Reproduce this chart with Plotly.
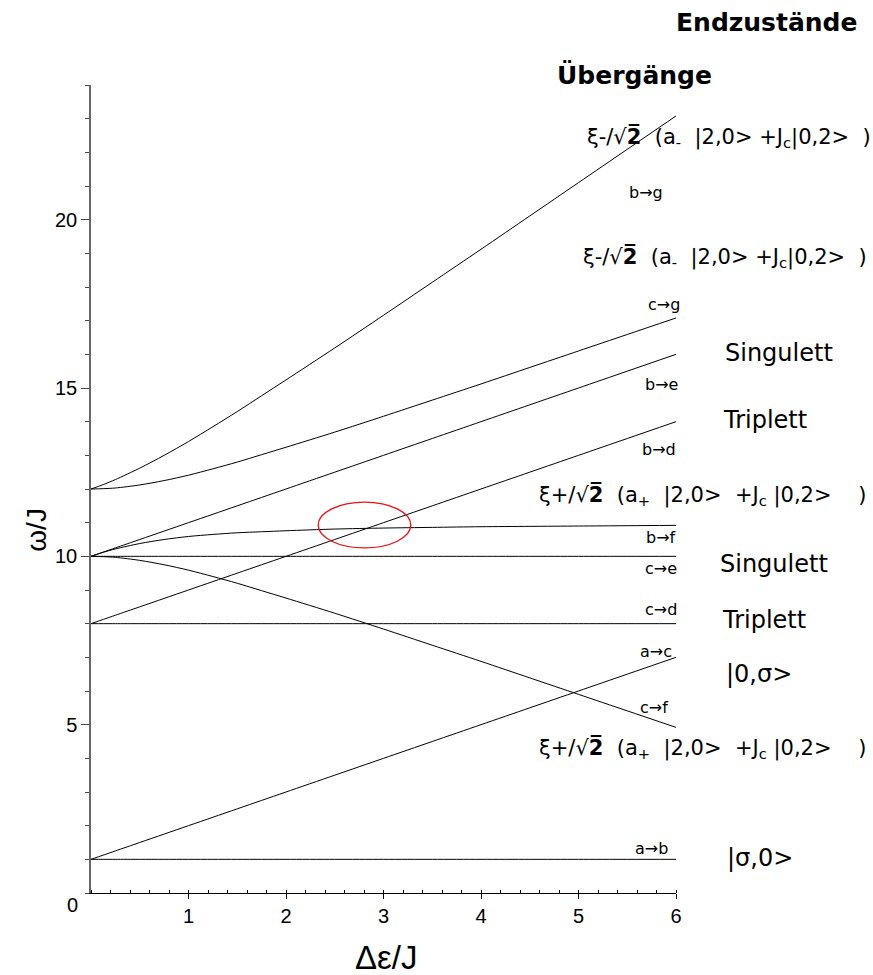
import plotly.graph_objects as go

# Δε/J sample points
delta_eps = [0, 0.125, 0.25, 0.5, 0.75, 1, 1.25, 1.5, 1.75, 2, 2.5, 3, 3.5, 4, 4.5, 5, 5.5, 6]

# transition energies ω/J
w_ab = [1] * 18
w_ac = [1, 1.125, 1.25, 1.5, 1.75, 2, 2.25, 2.5, 2.75, 3, 3.5, 4, 4.5, 5, 5.5, 6, 6.5, 7]
w_cd = [8] * 18
w_bd = [8, 8.125, 8.25, 8.5, 8.75, 9, 9.25, 9.5, 9.75, 10, 10.5, 11, 11.5, 12, 12.5, 13, 13.5, 14]
w_ce = [10] * 18
w_be = [10, 10.125, 10.25, 10.5, 10.75, 11, 11.25, 11.5, 11.75, 12, 12.5, 13, 13.5, 14, 14.5, 15, 15.5, 16]
w_cf = [10, 9.99, 9.97, 9.88, 9.75, 9.59, 9.40, 9.20, 8.98, 8.76, 8.31, 7.84, 7.36, 6.88, 6.39, 5.90, 5.41, 4.92]
w_bf = [10, 10.12, 10.22, 10.38, 10.50, 10.59, 10.65, 10.70, 10.73, 10.76, 10.81, 10.84, 10.86, 10.88, 10.89, 10.90, 10.91, 10.92]
w_cg = [12, 12.01, 12.03, 12.12, 12.25, 12.41, 12.60, 12.80, 13.02, 13.24, 13.69, 14.16, 14.64, 15.12, 15.61, 16.10, 16.59, 17.08]
w_bg = [12, 12.13, 12.28, 12.62, 13.00, 13.41, 13.85, 14.30, 14.77, 15.24, 16.19, 17.16, 18.14, 19.12, 20.11, 21.10, 22.09, 23.08]

series = [w_ab, w_ac, w_cd, w_bd, w_ce, w_be, w_cf, w_bf, w_cg, w_bg]

X_MAX, Y_MAX = 6, 24
AXFONT = "Liberation Sans, Arial, sans-serif"
TXFONT = "DejaVu Sans, sans-serif"

fig = go.Figure()
for ys in series:
    fig.add_trace(go.Scatter(
        x=delta_eps, y=ys, mode="lines",
        line=dict(color="black", width=1, shape="spline", smoothing=0.8),
        showlegend=False, hoverinfo="skip",
    ))

# highlighted crossing region
fig.add_shape(type="circle", xref="x", yref="y",
              x0=2.33, x1=3.28, y0=10.25, y1=11.61,
              line=dict(color="#ee1111", width=1.3))

ROOT2 = "√<span style='font-weight:bold;font-size:21px'>2\u0305</span>"
xi_minus = f"ξ-/{ROOT2}  (a<sub>-</sub>  |2,0&gt; +J<sub>c</sub>|0,2&gt;  )"
xi_plus = f"ξ+/{ROOT2}  (a<sub>+</sub>  |2,0&gt;  +J<sub>c</sub> |0,2&gt;    )"

# (text, x, y, size, font, weight) in axis units; domain refs let them sit outside the plot
labels = [
    ("Endzustände", 6.93, 25.87, 25, TXFONT, "bold"),
    ("Übergänge", 5.57, 24.29, 25, TXFONT, "bold"),
    (xi_minus, 6.54, 22.45, 21, TXFONT, "normal"),
    ("b→g", 5.69, 20.82, 16, TXFONT, "normal"),
    (xi_minus, 6.50, 18.89, 21, TXFONT, "normal"),
    ("c→g", 5.88, 17.49, 16, TXFONT, "normal"),
    ("Singulett", 7.06, 16.04, 24, TXFONT, "normal"),
    ("b→e", 5.85, 15.09, 16, TXFONT, "normal"),
    ("Triplett", 6.91, 14.05, 24, TXFONT, "normal"),
    ("b→d", 5.83, 13.16, 16, TXFONT, "normal"),
    (xi_plus, 6.27, 11.82, 21, TXFONT, "normal"),
    ("b→f", 5.85, 10.57, 16, TXFONT, "normal"),
    ("Singulett", 7.00, 9.78, 24, TXFONT, "normal"),
    ("c→e", 5.85, 9.65, 16, TXFONT, "normal"),
    ("c→d", 5.85, 8.43, 16, TXFONT, "normal"),
    ("Triplett", 6.90, 8.10, 24, TXFONT, "normal"),
    ("a→c", 5.79, 7.16, 16, TXFONT, "normal"),
    ("|0,σ&gt;", 6.85, 6.50, 24, TXFONT, "normal"),
    ("c→f", 5.77, 5.52, 16, TXFONT, "normal"),
    (xi_plus, 6.27, 4.28, 21, TXFONT, "normal"),
    ("a→b", 5.75, 1.31, 16, TXFONT, "normal"),
    ("|σ,0&gt;", 6.86, 1.04, 24, TXFONT, "normal"),
    ("0", -0.19, -0.36, 20, AXFONT, "normal"),
    ("Δε/J", 3.03, -1.93, 33, AXFONT, "normal"),
]
for text, x, y, size, family, weight in labels:
    fig.add_annotation(text=text, x=x / X_MAX, y=y / Y_MAX,
                       xref="x domain", yref="y domain",
                       showarrow=False, xanchor="center", yanchor="middle",
                       font=dict(family=family, size=size, color="black", weight=weight))

fig.add_annotation(text="ω/J", x=-0.74 / X_MAX, y=10.8 / Y_MAX,
                   xref="x domain", yref="y domain",
                   showarrow=False, textangle=-90,
                   font=dict(family=AXFONT, size=28, color="black"))

fig.update_xaxes(
    range=[0, X_MAX], showgrid=False, zeroline=False,
    showline=True, linecolor="black", linewidth=1,
    tickvals=[1, 2, 3, 4, 5, 6], ticks="outside", ticklen=5,
    tickcolor="black", tickwidth=1,
    tickfont=dict(family=AXFONT, size=20, color="black"),
    minor=dict(dtick=0.2, ticks="inside", ticklen=3, tickcolor="black", tickwidth=1),
)
fig.update_yaxes(
    range=[0, Y_MAX], showgrid=False, zeroline=False,
    showline=True, linecolor="#666666", linewidth=1.5,
    tickvals=[5, 10, 15, 20], ticks="outside", ticklen=8,
    tickcolor="#444444", tickwidth=1,
    tickfont=dict(family=AXFONT, size=20, color="black"),
    minor=dict(dtick=1, ticks="outside", ticklen=4, tickcolor="#444444", tickwidth=1),
)

fig.update_layout(
    width=873, height=975,
    margin=dict(l=91, r=197, t=85, b=82),
    paper_bgcolor="white", plot_bgcolor="white",
)

fig.write_html("out.html")
